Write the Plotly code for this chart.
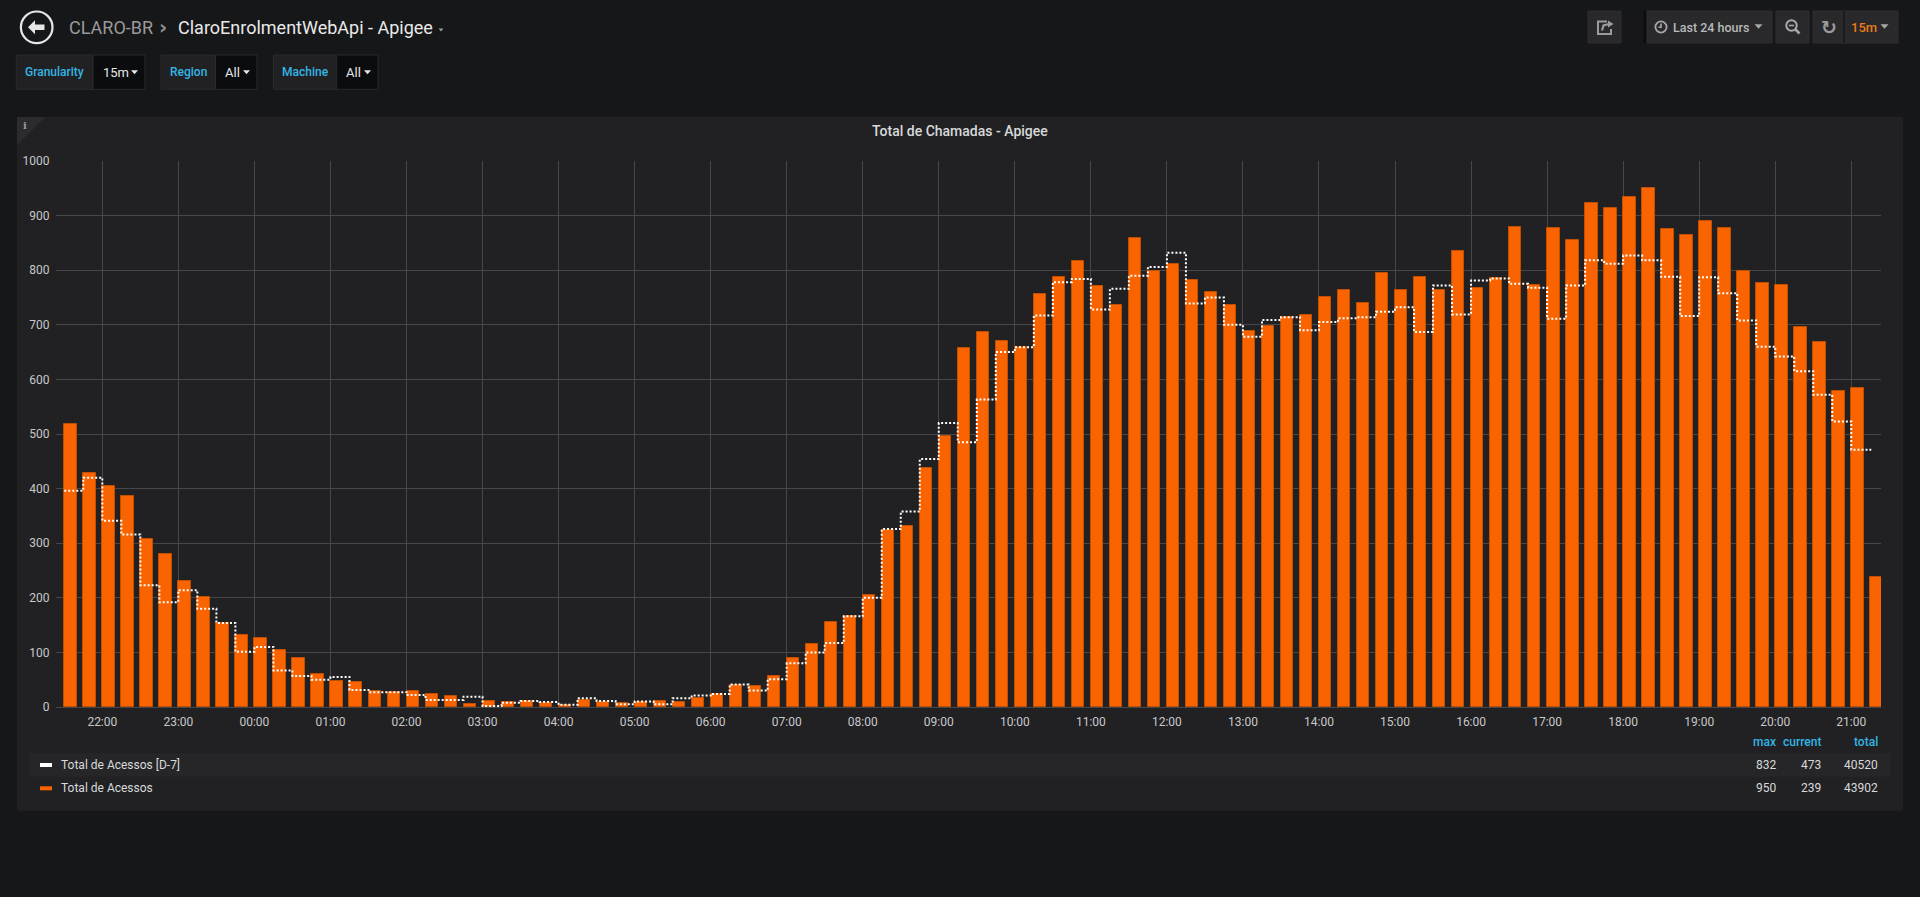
import pandas as pd
import plotly.graph_objects as go

# ---------------- data ----------------
START = "2019-03-10 21:30"
STEP_MIN = 15
RANGE_START = "2019-03-10 21:23:27"
RANGE_END = "2019-03-11 21:23:27"

acessos = [518, 429, 405, 386, 307, 280, 231, 202, 154, 132, 127, 105, 89, 61, 47, 45,
           30, 28, 30, 23, 20, 5, 11,
           10, 11, 8, 4, 13, 10, 7, 9, 11, 10, 17, 23, 40, 38, 57, 89, 115, 156, 166,
           206, 324, 331, 438, 497,
           657, 686, 671, 659, 756, 787, 817, 771, 736, 859, 799, 812, 782, 760, 737,
           689, 697, 714, 718, 751, 764, 740, 795, 764, 788, 764,
           836, 767, 786, 879, 772, 878, 855, 923, 914, 934, 950, 875, 864, 891, 878,
           799, 777, 772, 696, 668, 579, 584, 239]

acessos_d7 = [396, 420, 341, 316, 223, 192, 214, 180, 154, 101, 110, 67, 57, 50, 55, 31,
              27, 27, 22, 13, 13, 19, 2,
              8, 11, 9, 4, 16, 11, 5, 10, 5, 16, 21, 24, 41, 30, 51, 80, 100, 117, 166,
              200, 326, 358, 454, 520,
              485, 563, 650, 659, 717, 778, 784, 728, 766, 790, 806, 832, 739, 750, 700,
              678, 709, 714, 690, 705, 712, 714, 724, 732, 687, 772,
              719, 781, 785, 775, 768, 711, 772, 818, 812, 827, 818, 788, 716, 787, 758,
              708, 660, 642, 615, 572, 523, 471, 473]

series_names = ["Total de Acessos [D-7]", "Total de Acessos"]
legend_columns = ["max", "current", "total"]
legend_stats = [["832", "473", "40520"], ["950", "239", "43902"]]
y_ticks = [0, 100, 200, 300, 400, 500, 600, 700, 800, 900, 1000]

times = pd.date_range(START, periods=len(acessos), freq=f"{STEP_MIN}min")
bar_centers = times + pd.Timedelta(minutes=4.9)

# ---------------- styling / geometry ----------------
W, H = 1920, 897
L, R, T, B = 56, 39, 161, 190
PW, PH = W - L - R, H - T - B

PAGE_BG = "#161719"
PANEL_BG = "#212124"
ORANGE = "#FA6400"
CYAN = "#33b5e5"
TXT = "#d8d9da"
FONT = "Roboto"


def px(x):
    return (x - L) / PW


def py(y):
    return (H - B - y) / PH


shapes = []
annotations = []


def rect(x0, y0, x1, y1, fill, line=None, lw=1, layer="below"):
    shapes.append(dict(type="rect", xref="paper", yref="paper",
                       x0=px(x0), x1=px(x1), y0=py(y1), y1=py(y0),
                       fillcolor=fill, layer=layer,
                       line=dict(color=line or fill, width=lw if line else 0)))


def path(points, fill=None, line=None, lw=1.5, close=True, layer="above"):
    d = "M " + " L ".join(f"{px(x):.6f},{py(y):.6f}" for x, y in points)
    if close:
        d += " Z"
    shapes.append(dict(type="path", xref="paper", yref="paper", path=d, layer=layer,
                       fillcolor=fill or "rgba(0,0,0,0)",
                       line=dict(color=line or "rgba(0,0,0,0)", width=lw if line else 0)))


def caret(cx, cy, w, h, color):
    path([(cx - w / 2, cy - h / 2), (cx + w / 2, cy - h / 2), (cx, cy + h / 2)], fill=color)


def circle(cx, cy, r, line, lw=2, fill=None):
    shapes.append(dict(type="circle", xref="paper", yref="paper",
                       x0=px(cx - r), x1=px(cx + r), y0=py(cy + r), y1=py(cy - r),
                       fillcolor=fill or "rgba(0,0,0,0)", layer="above",
                       line=dict(color=line, width=lw)))


def text(x, y, s, size=12, color=TXT, anchor="left", weight=400, family=FONT):
    annotations.append(dict(xref="paper", yref="paper", x=px(x), y=py(y), text=s,
                            showarrow=False, xanchor=anchor, yanchor="middle",
                            font=dict(family=family, size=size, color=color, weight=weight)))


# ---------------- panel ----------------
rect(17, 117, 1903, 810.7, PANEL_BG)
path([(17, 117), (45, 117), (17, 145)], fill="#2c2c2f", layer="below")
text(21, 125, "i", size=10, color="#9a9a9a", weight=700, family="DejaVu Serif")
text(959.7, 130.5, "Total de Chamadas - Apigee", size=14, color=TXT, anchor="center", weight=500)

# ---------------- header ----------------
circle(36.7, 27.3, 15.8, "#e6e6e6", lw=2.2)
path([(28, 27.3), (35, 20.3), (35, 24.6), (44.5, 24.6), (44.5, 30.0), (35, 30.0), (35, 34.3)],
     fill="#e6e6e6")
text(67, 27, "CLARO-BR", size=18, color="#9a9a9a")
text(163, 27, "›", size=20, color="#8e8e8e", anchor="center", weight=700, family="DejaVu Sans")
text(175.5, 27, "ClaroEnrolmentWebApi - Apigee", size=18, color="#e9e9e9")
caret(441, 30, 5, 3, "#9a9a9a")

# variable selectors
for (x0, xv, x1, label, val) in [(16.3, 93, 145, "Granularity", "15m"),
                                 (161, 215.5, 257, "Region", "All"),
                                 (273.5, 336.7, 378, "Machine", "All")]:
    rect(x0, 55, xv, 89.3, "#212124", line="#2a2a2d")
    rect(xv, 55, x1, 89.3, "#0b0c0e", line="#2a2a2d")
    text((x0 + xv) / 2, 72.3, label, size=12, color=CYAN, anchor="center", weight=500)
    text(xv + 7.5, 72.3, val, size=13, color="#e6e6e6")
    caret(x1 - 10.5, 72.3, 7, 4, "#e6e6e6")

# top-right buttons
BTN = "#29292c"
rect(1588, 11, 1621, 43, BTN, line="#2f2f32")
path([(1607, 21.5), (1598, 21.5), (1598, 34), (1611, 34), (1611, 29)], line="#9b9b9b", lw=2, close=False)
path([(1602, 30.5), (1603.5, 25.5), (1609, 24)], line="#9b9b9b", lw=2.2, close=False)
path([(1608, 20.5), (1613.5, 24), (1608, 27.5)], fill="#9b9b9b")

rect(1643.5, 11, 1647, 43, "#0e0e10")
rect(1647, 11, 1772, 43, BTN, line="#2f2f32")
circle(1661, 27, 5.6, "#a8a8a8", lw=1.8)
path([(1661, 23.5), (1661, 27.3), (1658.5, 27.3)], line="#a8a8a8", lw=1.6, close=False)
text(1670.5, 27, "Last 24 hours", size=12.5, color="#b9b9b9", weight=500)
caret(1758.5, 26.5, 8, 4.5, "#a8a8a8")

rect(1776, 11, 1809, 43, BTN, line="#2f2f32")
circle(1791.5, 25.5, 5.2, "#a8a8a8", lw=2)
path([(1795.5, 29.5), (1799.5, 33.5)], line="#a8a8a8", lw=2.5, close=False)
path([(1789, 25.5), (1794, 25.5)], line="#a8a8a8", lw=1.6, close=False)

rect(1813, 11, 1898, 43, BTN, line="#2f2f32")
rect(1843, 11, 1845, 43, "#1c1c1e")
text(1829, 27, "↻", size=19, color="#9b9b9b", anchor="center", weight=700, family="DejaVu Sans")
text(1849, 27, "15m", size=13, color="#eb7b18", weight=500)
caret(1884.5, 26.5, 8, 4.5, "#a8a8a8")

# ---------------- legend table ----------------
col_right = [1778.3, 1823.3, 1880]
for c, xr in zip(legend_columns, col_right):
    text(xr, 741.7, c, size=12, color=CYAN, anchor="right", weight=500)
rect(29.5, 753.3, 1890, 776.7, "#262628")
row_y = [765, 788.3]
swatch = ["#ffffff", ORANGE]
for i, name in enumerate(series_names):
    rect(40, row_y[i] - 2, 52, row_y[i] + 2, swatch[i], layer="above")
    text(59, row_y[i], name, size=12, color=TXT)
    for v, xr in zip(legend_stats[i], col_right):
        text(xr, row_y[i], v, size=12, color=TXT, anchor="right")

# ---------------- traces ----------------
fig = go.Figure()
fig.add_trace(go.Bar(x=bar_centers, y=acessos, width=585000, name=series_names[1],
                     marker=dict(color=ORANGE, line=dict(color="#c24e00", width=1))))
fig.add_trace(go.Scatter(x=times, y=acessos_d7, mode="lines", line_shape="hv",
                         name=series_names[0],
                         line=dict(color="#ffffff", width=2, dash="2px,2px")))

GRID = "#47474a"
fig.update_layout(
    width=W, height=H,
    margin=dict(l=L, r=R, t=T, b=B, pad=0),
    paper_bgcolor=PAGE_BG, plot_bgcolor="rgba(0,0,0,0)",
    showlegend=False, bargap=0,
    font=dict(family=FONT, color="#c8c8c8", size=12),
    shapes=shapes, annotations=annotations,
    xaxis=dict(type="date", range=[RANGE_START, RANGE_END], dtick=3600000,
               tick0="2019-03-10 00:00", tickformat="%H:%M", showgrid=True,
               gridcolor=GRID, gridwidth=1, ticks="outside", ticklen=4,
               tickcolor="rgba(0,0,0,0)", showline=True, linecolor=GRID, linewidth=1,
               zeroline=False, tickfont=dict(size=12, color="#c8c8c8"), fixedrange=True),
    yaxis=dict(range=[0, 1000], tickvals=y_ticks, showgrid=True, gridcolor=GRID,
               gridwidth=1, ticks="outside", ticklen=3, tickcolor="rgba(0,0,0,0)",
               zeroline=True, zerolinecolor=GRID, zerolinewidth=1,
               tickfont=dict(size=12, color="#c8c8c8"), fixedrange=True),
)

fig.write_html("out.html", config={"displayModeBar": False},
               post_script="document.body.style.margin='0';document.body.style.background='#161719';document.body.style.overflow='hidden';")
